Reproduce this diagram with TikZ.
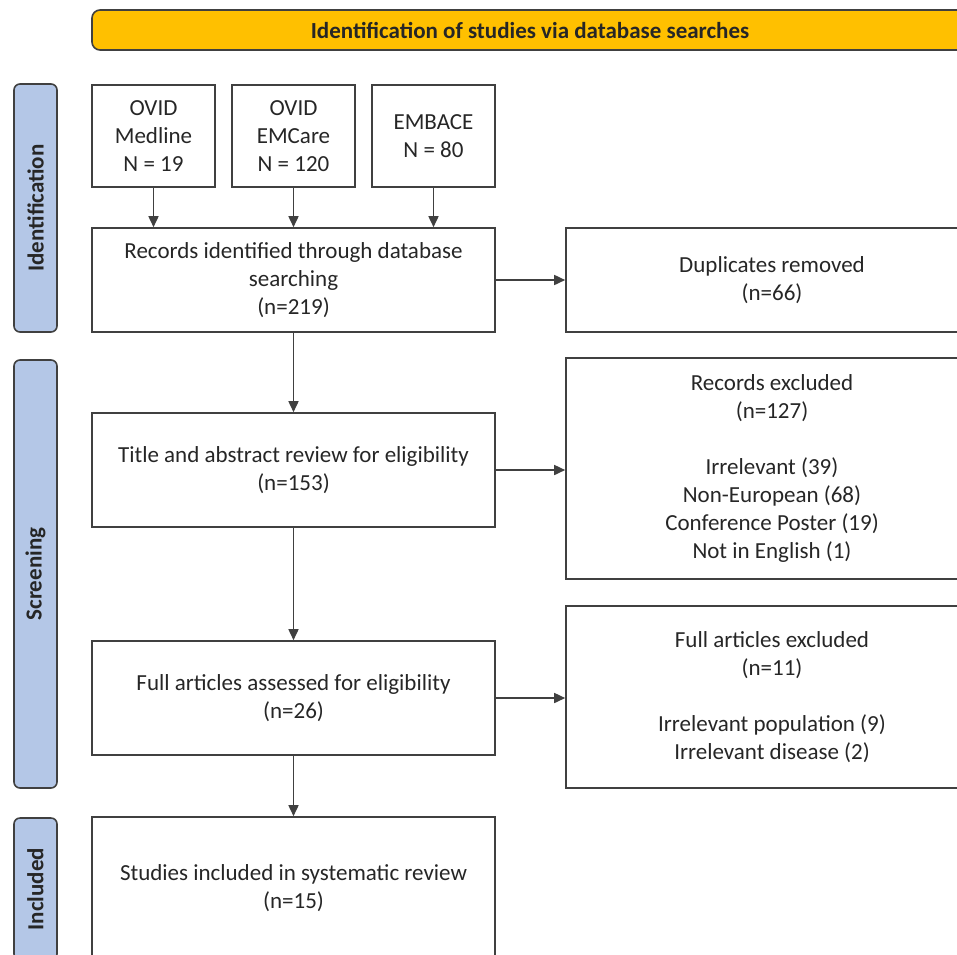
\documentclass[tikz,border=0pt]{standalone}
\usepackage{fontspec}
\setmainfont{Carlito}
\usetikzlibrary{arrows.meta}
\definecolor{bannergold}{HTML}{FFC000}
\definecolor{phaseblue}{HTML}{B4C7E7}
\definecolor{edgegray}{HTML}{404040}
\definecolor{textgray}{HTML}{262626}

\begin{document}
\begin{tikzpicture}[x=0.5pt,y=-0.5pt,
  every node/.style={align=center,text=textgray,font=\fontsize{11.5}{14}\selectfont},
  box/.style={draw=edgegray,line width=0.8pt,inner sep=2pt},
  source/.style={box,minimum width=61.5pt,minimum height=51pt},
  stage/.style={box,minimum width=201.5pt},
  excl/.style={box,minimum width=206pt},
  phase/.style={draw=edgegray,line width=0.8pt,fill=phaseblue,rounded corners=3pt,
    rotate=90,minimum height=21.5pt,inner sep=0pt,font=\bfseries\fontsize{11.5}{13}\selectfont},
  banner/.style={draw=edgegray,line width=0.8pt,fill=bannergold,rounded corners=4pt,
    minimum width=438pt,minimum height=20pt,font=\bfseries\fontsize{11.5}{13}\selectfont},
  to/.style={-{Triangle[length=5.5pt,width=5pt]},draw=edgegray,line width=0.8pt}]

  \clip (0,0) rectangle (957,954);

  \node[banner] (head) at (530,30) {Identification of studies via database searches};

  \node[phase,minimum width=124pt] (ident) at (35.5,208) {Identification};
  \node[phase,minimum width=214pt] (screen) at (35.5,574) {Screening};
  \node[phase,minimum width=71pt] (incl) at (35.5,889) {Included};

  \node[source] (medline) at (153.5,136) {OVID\\Medline\\N = 19};
  \node[source] (emcare) at (293.5,136) {OVID\\EMCare\\N = 120};
  \node[source] (embace) at (433.5,136) {EMBACE\\N = 80};

  \node[stage,minimum height=52pt] (records) at (293.5,280)
    {Records identified through database\\searching\\(n=219)};
  \node[stage,minimum height=57pt] (title) at (293.5,470)
    {Title and abstract review for eligibility\\(n=153)};
  \node[stage,minimum height=57pt] (full) at (293.5,698)
    {Full articles assessed for eligibility\\(n=26)};
  \node[stage,minimum height=71pt] (studies) at (293.5,888)
    {Studies included in systematic review\\(n=15)};

  \node[excl,minimum height=52pt] (dupl) at (772,280) {Duplicates removed\\(n=66)};
  \node[excl,minimum height=110.5pt] (recexcl) at (772,468.5)
    {Records excluded\\(n=127)\\[14pt]Irrelevant (39)\\Non-European (68)\\Conference Poster (19)\\Not in English (1)};
  \node[excl,minimum height=91pt] (fullexcl) at (772,697)
    {Full articles excluded\\(n=11)\\[14pt]Irrelevant population (9)\\Irrelevant disease (2)};

  \draw[to] (medline) -- (medline |- records.north);
  \draw[to] (emcare) -- (emcare |- records.north);
  \draw[to] (embace) -- (embace |- records.north);
  \draw[to] (records) -- (title);
  \draw[to] (title) -- (full);
  \draw[to] (full) -- (studies);
  \draw[to] (records.east) -- (records.east -| dupl.west);
  \draw[to] (title.east) -- (title.east -| recexcl.west);
  \draw[to] (full.east) -- (full.east -| fullexcl.west);
\end{tikzpicture}
\end{document}
